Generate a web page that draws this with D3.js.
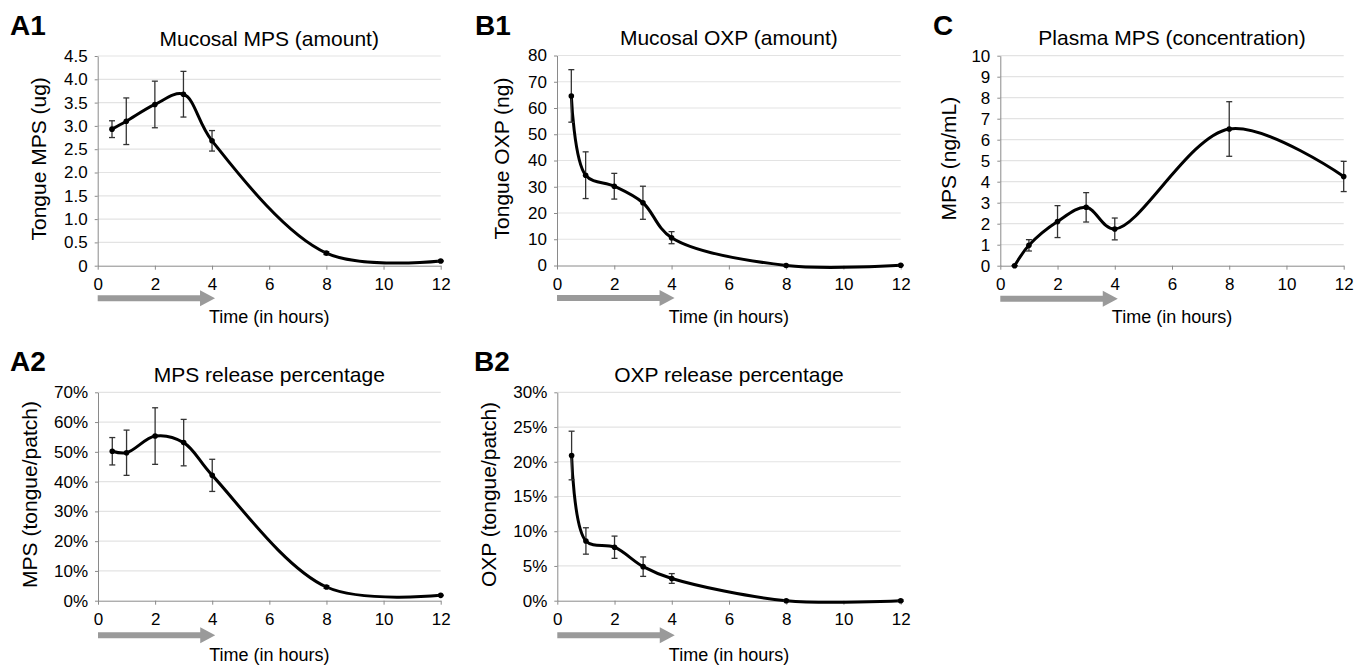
<!DOCTYPE html>
<html>
<head>
<meta charset="utf-8">
<script src="https://cdn.jsdelivr.net/npm/d3@7"></script>
<style>
  body { margin: 0; background: #fff; }
  svg { font-family: "Liberation Sans", Arial, sans-serif; }
</style>
</head>
<body>
<svg id="chart" width="1356" height="666"></svg>
<script>
// sampling times (hours) and the patch application window
const hours = [0.5, 1, 2, 3, 4, 8, 12];
const patchHours = [0, 4];
const hourTicks = [0, 2, 4, 6, 8, 10, 12];

// A1: tongue MPS amount (ug)
const mpsAmount = [2.93, 3.10, 3.46, 3.68, 2.68, 0.27, 0.10];
const mpsAmountErr = [0.18, 0.50, 0.50, 0.49, 0.22, 0.03, 0.01];
const mpsAmountTicks = [0, 0.5, 1, 1.5, 2, 2.5, 3, 3.5, 4, 4.5];

// B1: tongue OXP amount (ng)
const oxpAmount = [64.6, 34.4, 30.2, 23.9, 10.6, 0.0, 0.1];
const oxpAmountErr = [10.0, 8.9, 4.9, 6.3, 2.3, 0.2, 0.1];
const oxpAmountTicks = [0, 10, 20, 30, 40, 50, 60, 70, 80];

// C: plasma MPS (ng/mL)
const plasmaMps = [0, 0.97, 2.10, 2.78, 1.75, 6.51, 4.25];
const plasmaMpsErr = [0, 0.27, 0.76, 0.70, 0.52, 1.30, 0.72];
const plasmaMpsTicks = [0, 1, 2, 3, 4, 5, 6, 7, 8, 9, 10];

// A2: MPS release (%)
const mpsRelease = [50.2, 49.7, 55.3, 53.1, 42.1, 4.6, 1.8];
const mpsReleaseErr = [4.6, 7.6, 9.5, 7.8, 5.4, 0.4, 0.1];
const mpsReleaseTicks = [0, 10, 20, 30, 40, 50, 60, 70];

// B2: OXP release (%)
const oxpRelease = [20.9, 8.6, 7.7, 4.9, 3.2, 0.0, 0.0];
const oxpReleaseErr = [3.5, 1.9, 1.6, 1.4, 0.7, 0.1, 0.1];
const oxpReleaseTicks = [0, 5, 10, 15, 20, 25, 30];

const oneDecimal = d => (d === 0 ? '0' : d3.format('.1f')(d));
const plain = d => String(d);
const pct = d => `${d}%`;

const panels = [
  { letter: 'A1', title: 'Mucosal MPS (amount)', yLabel: 'Tongue MPS (ug)',
    values: mpsAmount, errors: mpsAmountErr, ticks: mpsAmountTicks, fmt: oneDecimal,
    box: [97.7, 56, 440.7, 265.7], letterPos: [10, 35], yLabelX: 46, arrowDy: 32.5, xLabelDy: 57 },
  { letter: 'B1', title: 'Mucosal OXP (amount)', yLabel: 'Tongue OXP (ng)',
    values: oxpAmount, errors: oxpAmountErr, ticks: oxpAmountTicks, fmt: plain,
    box: [557, 55.5, 900.7, 265.5], letterPos: [475, 35], yLabelX: 509, arrowDy: 32.5, xLabelDy: 57 },
  { letter: 'C', title: 'Plasma MPS (concentration)', yLabel: 'MPS (ng/mL)',
    values: plasmaMps, errors: plasmaMpsErr, ticks: plasmaMpsTicks, fmt: plain,
    box: [1000.3, 55.7, 1343.7, 265.7], letterPos: [933, 35], yLabelX: 956, arrowDy: 33, xLabelDy: 57 },
  { letter: 'A2', title: 'MPS release percentage', yLabel: 'MPS (tongue/patch)',
    values: mpsRelease, errors: mpsReleaseErr, ticks: mpsReleaseTicks, fmt: pct,
    box: [98, 392.3, 440.7, 600.7], letterPos: [10, 371], yLabelX: 37, arrowDy: 34.5, xLabelDy: 60 },
  { letter: 'B2', title: 'OXP release percentage', yLabel: 'OXP (tongue/patch)',
    values: oxpRelease, errors: oxpReleaseErr, ticks: oxpReleaseTicks, fmt: pct,
    box: [557.3, 392.3, 900.7, 600.7], letterPos: [474, 371], yLabelX: 496, arrowDy: 34.5, xLabelDy: 60 },
];

const svg = d3.select('#chart');

panels.forEach((p) => {
  const [left, top, right, bottom] = p.box;
  const x = d3.scaleLinear().domain([0, 12]).range([left, right]);
  const y = d3.scaleLinear().domain([0, d3.max(p.ticks)]).range([bottom, top]);
  const g = svg.append('g');

  // gridlines
  g.selectAll('.grid')
    .data(p.ticks.filter(t => t > 0))
    .enter()
    .append('line')
    .attr('x1', left)
    .attr('x2', right)
    .attr('y1', d => y(d))
    .attr('y2', d => y(d))
    .style('stroke', '#e3e3e3')
    .style('stroke-width', '1.2px');

  // y axis
  const yAxis = g.append('g')
    .attr('transform', `translate(${left},0)`)
    .call(d3.axisLeft(y).tickValues(p.ticks).tickFormat(p.fmt).tickSize(3).tickSizeOuter(0).tickPadding(7));
  yAxis.select('.domain').style('stroke', '#8a8a8a');
  yAxis.selectAll('.tick line').style('stroke', '#8a8a8a');
  yAxis.selectAll('text').style('font-size', '17px').style('fill', '#000');

  // x axis
  const xAxis = g.append('g')
    .attr('transform', `translate(0,${bottom})`)
    .call(d3.axisBottom(x).tickValues(hourTicks).tickSize(4).tickSizeOuter(0).tickPadding(8));
  xAxis.select('.domain').style('stroke', '#8a8a8a');
  xAxis.selectAll('.tick line').style('stroke', '#8a8a8a');
  xAxis.selectAll('text').style('font-size', '17px').style('fill', '#000');

  // patch application arrow
  const ay = bottom + p.arrowDy;
  const ax0 = x(patchHours[0]);
  const ax1 = x(patchHours[1]) + 3;
  g.append('path')
    .attr('d', `M${ax0},${ay - 3}H${ax1 - 15}V${ay - 8}L${ax1},${ay}L${ax1 - 15},${ay + 8}V${ay + 3}H${ax0}Z`)
    .style('fill', '#9a9a9a');

  // smoothed series line
  const pts = hours.map((h, i) => [h, p.values[i]]);
  g.append('path')
    .datum(pts)
    .attr('d', d3.line().x(d => x(d[0])).y(d => y(d[1])).curve(d3.curveCatmullRom.alpha(0.5)))
    .style('fill', 'none')
    .style('stroke', '#000')
    .style('stroke-width', '3px');

  // error bars
  const bars = g.selectAll('.err')
    .data(pts.map((d, i) => ({ h: d[0], v: d[1], e: p.errors[i] })))
    .enter()
    .append('g');
  bars.append('line')
    .attr('x1', d => x(d.h)).attr('x2', d => x(d.h))
    .attr('y1', d => y(d.v - d.e)).attr('y2', d => y(d.v + d.e));
  bars.append('line')
    .attr('x1', d => x(d.h) - 3).attr('x2', d => x(d.h) + 3)
    .attr('y1', d => y(d.v + d.e)).attr('y2', d => y(d.v + d.e));
  bars.append('line')
    .attr('x1', d => x(d.h) - 3).attr('x2', d => x(d.h) + 3)
    .attr('y1', d => y(d.v - d.e)).attr('y2', d => y(d.v - d.e));
  bars.selectAll('line').style('stroke', '#333').style('stroke-width', '1.3px');

  // markers
  g.selectAll('.pt')
    .data(pts)
    .enter()
    .append('circle')
    .attr('cx', d => x(d[0]))
    .attr('cy', d => y(d[1]))
    .attr('r', 2.8)
    .style('fill', '#000');

  // texts
  g.append('text')
    .attr('x', p.letterPos[0])
    .attr('y', p.letterPos[1])
    .style('font-size', '28px')
    .style('font-weight', 'bold')
    .text(p.letter);

  g.append('text')
    .attr('x', (left + right) / 2)
    .attr('y', top - 10.5)
    .attr('text-anchor', 'middle')
    .style('font-size', '21px')
    .text(p.title);

  g.append('text')
    .attr('transform', `translate(${p.yLabelX},${(top + bottom) / 2 - 2}) rotate(-90)`)
    .attr('text-anchor', 'middle')
    .style('font-size', '21px')
    .text(p.yLabel);

  g.append('text')
    .attr('x', (left + right) / 2)
    .attr('y', bottom + p.xLabelDy)
    .attr('text-anchor', 'middle')
    .style('font-size', '18px')
    .text('Time (in hours)');
});
</script>
</body>
</html>
